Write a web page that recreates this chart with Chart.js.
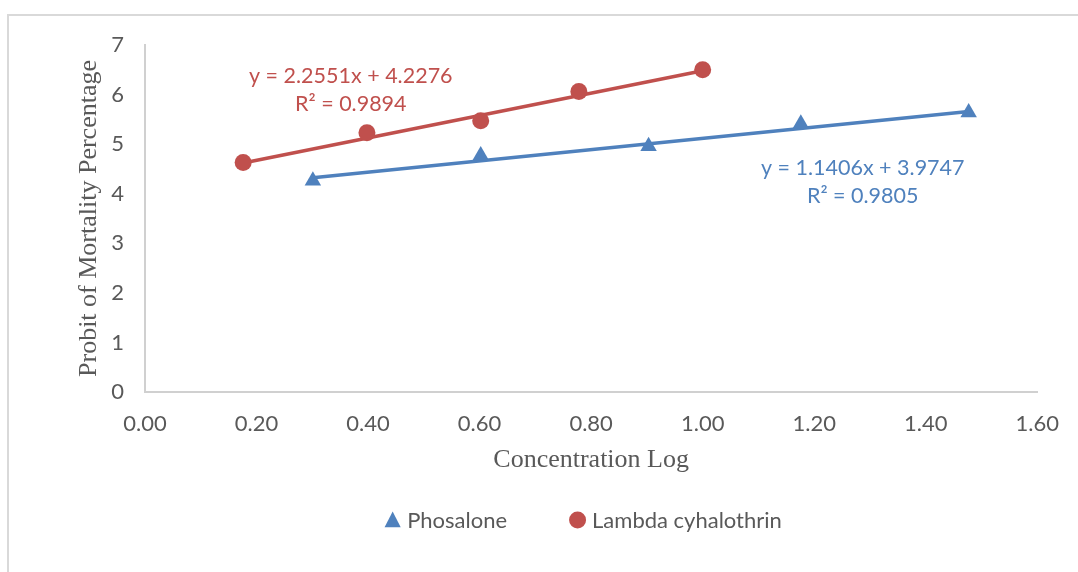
<!DOCTYPE html>
<html>
<head>
<meta charset="utf-8">
<script src="https://cdn.jsdelivr.net/npm/chart.js@4.4.0/dist/chart.umd.min.js"></script>
<style>
	html, body { margin: 0; padding: 0; background: #fff; overflow: hidden; }
	#wrap { position: relative; width: 1078px; height: 572px; }
	#frame {
		position: absolute; left: 7px; top: 14px; width: 1100px; height: 600px;
		border-top: 2px solid #d9d9d9; border-left: 2px solid #d9d9d9;
	}
	canvas { position: absolute; left: 0; top: 0; }
</style>
</head>
<body>
<div id="wrap">
	<div id="frame"></div>
	<canvas id="chart" width="1078" height="572"></canvas>
</div>
<script>
/* data */
const phosaloneLog = [0.301, 0.602, 0.903, 1.176, 1.477];
const phosaloneProbit = [4.26, 4.77, 4.96, 5.41, 5.64];
const lambdaLog = [0.176, 0.398, 0.602, 0.778, 1.000];
const lambdaProbit = [4.63, 5.23, 5.47, 6.06, 6.50];

/* trend lines (end points) */
const phosaloneTrendLog = [0.301, 1.477];
const phosaloneTrendProbit = [4.32, 5.66];
const lambdaTrendLog = [0.176, 1.000];
const lambdaTrendProbit = [4.62, 6.48];

const seriesNames = ['Phosalone', 'Lambda cyhalothrin'];
const phosaloneEquation = ['y = 1.1406x + 3.9747', 'R² = 0.9805'];
const lambdaEquation = ['y = 2.2551x + 4.2276', 'R² = 0.9894'];

const xTickValues = [0, 0.2, 0.4, 0.6, 0.8, 1.0, 1.2, 1.4, 1.6];
const yTickValues = [0, 1, 2, 3, 4, 5, 6, 7];

const xTitle = 'Concentration Log';
const yTitle = 'Probit of Mortality Percentage';

/* styles */
const BLUE = '#4f81bd';
const RED = '#c0504d';
const GREY_TEXT = '#595959';
const AXIS_LINE = '#d0d0d0';
const SANS = 'Lato';
const SERIF = '"Liberation Serif"';

const toPoints = (xs, ys) => xs.map((x, i) => ({ x, y: ys[i] }));

const equationLabels = {
	id: 'equationLabels',
	afterDatasetsDraw(chart, args, opts) {
		const { ctx, scales: { x, y } } = chart;
		ctx.save();
		ctx.font = `21.5px ${SANS}`;
		ctx.textAlign = 'center';
		ctx.textBaseline = 'alphabetic';
		opts.items.forEach((item) => {
			const px = x.getPixelForValue(item.at[0]);
			const py = y.getPixelForValue(item.at[1]);
			ctx.fillStyle = item.color;
			item.lines.forEach((line, i) => ctx.fillText(line, px, py + i * 28));
		});
		ctx.restore();
	},
};

const drawMarker = (ctx, style, cx, cy, r, color) => {
	ctx.fillStyle = color;
	ctx.beginPath();
	if (style === 'triangle') {
		ctx.moveTo(cx, cy - r);
		ctx.lineTo(cx + r * 0.95, cy + r * 0.85);
		ctx.lineTo(cx - r * 0.95, cy + r * 0.85);
		ctx.closePath();
	} else {
		ctx.arc(cx, cy, r, 0, Math.PI * 2);
	}
	ctx.fill();
};

const bottomLegend = {
	id: 'bottomLegend',
	afterDraw(chart, args, opts) {
		const { ctx } = chart;
		ctx.save();
		ctx.font = `22px ${SANS}`;
		ctx.textBaseline = 'middle';
		ctx.textAlign = 'left';
		const items = chart.data.datasets.filter(ds => ds.inLegend);
		const widths = items.map(ds => 17 + 6 + ctx.measureText(ds.label).width);
		const total = widths.reduce((a, b) => a + b, 0) + opts.gap * (items.length - 1);
		let left = opts.centerX - total / 2;
		items.forEach((ds, i) => {
			drawMarker(ctx, ds.pointStyle, left + 8.5, opts.y, 8.5, ds.backgroundColor);
			ctx.fillStyle = GREY_TEXT;
			ctx.fillText(ds.label, left + 23, opts.y + 1);
			left += widths[i] + opts.gap;
		});
		ctx.restore();
	},
};

const chart = new Chart(document.getElementById('chart'), {
	type: 'scatter',
	data: {
		datasets: [
			{
				label: seriesNames[0],
				inLegend: true,
				data: toPoints(phosaloneLog, phosaloneProbit),
				pointStyle: 'triangle',
				pointRadius: 9.5,
				backgroundColor: BLUE,
				borderColor: BLUE,
				borderWidth: 0,
				showLine: false,
				order: 1,
			},
			{
				label: seriesNames[1],
				inLegend: true,
				data: toPoints(lambdaLog, lambdaProbit),
				pointStyle: 'circle',
				pointRadius: 8.5,
				backgroundColor: RED,
				borderColor: RED,
				borderWidth: 0,
				showLine: false,
				order: 1,
			},
			{
				label: 'Phosalone trend',
				data: toPoints(phosaloneTrendLog, phosaloneTrendProbit),
				showLine: true,
				pointRadius: 0,
				borderColor: BLUE,
				borderWidth: 3.5,
				order: 2,
			},
			{
				label: 'Lambda trend',
				data: toPoints(lambdaTrendLog, lambdaTrendProbit),
				showLine: true,
				pointRadius: 0,
				borderColor: RED,
				borderWidth: 3.5,
				order: 2,
			},
		],
	},
	options: {
		responsive: false,
		animation: false,
		events: [],
		layout: {
			padding: { left: 72, right: 35, top: 45, bottom: 96 },
		},
		plugins: {
			legend: { display: false },
			tooltip: { enabled: false },
			equationLabels: {
				items: [
					{ lines: lambdaEquation, at: [0.369, 6.23], color: RED },
					{ lines: phosaloneEquation, at: [1.287, 4.38], color: BLUE },
				],
			},
			bottomLegend: { centerX: 583, y: 520, gap: 62 },
		},
		scales: {
			x: {
				type: 'linear',
				min: 0,
				max: 1.6,
				afterBuildTicks: (scale) => { scale.ticks = xTickValues.map(value => ({ value })); },
				afterFit: (scale) => { scale.height = 84; },
				grid: { display: false, drawTicks: false },
				border: { display: true, color: AXIS_LINE, width: 2 },
				ticks: {
					padding: 19,
					color: GREY_TEXT,
					font: { family: SANS, size: 22 },
					maxRotation: 0,
					callback: (value) => Number(value).toFixed(2),
				},
				title: {
					display: true,
					text: xTitle,
					color: GREY_TEXT,
					font: { family: SERIF, size: 26 },
					padding: { top: 0, bottom: 0 },
				},
			},
			y: {
				type: 'linear',
				min: 0,
				max: 7,
				afterBuildTicks: (scale) => { scale.ticks = yTickValues.map(value => ({ value })); },
				afterFit: (scale) => { scale.width = 73; },
				grid: { display: false, drawTicks: false },
				border: { display: true, color: AXIS_LINE, width: 2 },
				ticks: {
					padding: 21,
					color: GREY_TEXT,
					font: { family: SANS, size: 22 },
				},
				title: {
					display: true,
					text: yTitle,
					color: GREY_TEXT,
					font: { family: SERIF, size: 26 },
					padding: { top: 2, bottom: 0 },
				},
			},
		},
	},
	plugins: [equationLabels, bottomLegend],
});
</script>
</body>
</html>
